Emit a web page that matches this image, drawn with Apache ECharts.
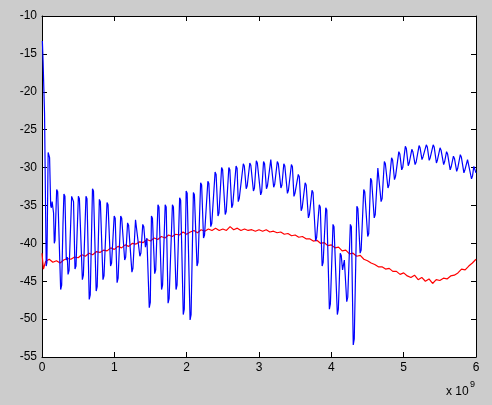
<!DOCTYPE html>
<html>
<head>
<meta charset="utf-8">
<script src="https://cdn.jsdelivr.net/npm/echarts@6/dist/echarts.min.js"></script>
<style>
html,body{margin:0;padding:0;background:#cccccc;}
#chart{width:492px;height:405px;}
</style>
</head>
<body>
<div id="chart"></div>
<script>
// x in units of 1e9
const xTicks = [0, 1, 2, 3, 4, 5, 6];
const yTicks = [-55, -50, -45, -40, -35, -30, -25, -20, -15, -10];

const blueX = [0.005,0.015,0.035,0.05,0.058,0.068,0.085,0.095,0.105,0.12,0.13,0.14,0.16,0.17,0.18,0.203,0.217,0.228,0.242,0.258,0.272,0.29,0.303,0.317,0.336,0.35,0.36,0.374,0.41,0.424,0.436,0.456,0.47,0.503,0.517,0.558,0.572,0.608,0.622,0.653,0.667,0.698,0.712,0.749,0.763,0.793,0.807,0.843,0.857,0.899,0.913,0.948,0.962,0.998,1.012,1.038,1.052,1.088,1.102,1.143,1.157,1.183,1.197,1.243,1.257,1.293,1.307,1.32,1.353,1.367,1.393,1.407,1.43,1.45,1.483,1.497,1.513,1.527,1.558,1.572,1.603,1.617,1.653,1.667,1.703,1.717,1.743,1.757,1.803,1.817,1.853,1.867,1.903,1.917,1.953,1.967,1.993,2.007,2.047,2.061,2.093,2.107,2.143,2.157,2.193,2.207,2.233,2.247,2.293,2.307,2.333,2.347,2.393,2.407,2.433,2.447,2.483,2.497,2.533,2.547,2.583,2.597,2.623,2.637,2.683,2.697,2.713,2.727,2.783,2.797,2.823,2.837,2.873,2.887,2.923,2.937,2.963,2.977,3.023,3.037,3.063,3.077,3.103,3.117,3.163,3.177,3.203,3.217,3.253,3.267,3.303,3.317,3.343,3.357,3.393,3.407,3.448,3.462,3.483,3.497,3.543,3.557,3.583,3.597,3.638,3.652,3.683,3.697,3.733,3.747,3.783,3.797,3.833,3.847,3.873,3.887,3.923,3.937,3.973,3.987,4.023,4.037,4.083,4.097,4.123,4.137,4.155,4.18,4.213,4.227,4.263,4.277,4.303,4.317,4.353,4.367,4.398,4.412,4.448,4.462,4.503,4.517,4.543,4.557,4.593,4.607,4.643,4.657,4.688,4.702,4.733,4.747,4.783,4.797,4.833,4.847,4.873,4.887,4.933,4.947,4.973,4.987,5.023,5.037,5.063,5.077,5.113,5.127,5.158,5.172,5.213,5.227,5.253,5.267,5.313,5.327,5.353,5.367,5.408,5.422,5.453,5.467,5.503,5.517,5.553,5.567,5.593,5.607,5.643,5.657,5.688,5.702,5.733,5.747,5.783,5.797,5.833,5.847,5.883,5.897,5.938,5.952,5.97,6.0];
const blueY = [-13.3,-16.0,-22.8,-36.0,-43.0,-42.5,-28.0,-28.2,-28.7,-35.0,-35.3,-34.5,-36.0,-40.0,-39.6,-32.9,-33.2,-33.0,-33.4,-46.1,-45.5,-37.5,-33.5,-33.8,-42.2,-41.8,-44.1,-43.6,-33.8,-34.0,-34.5,-43.4,-43.0,-33.8,-34.1,-44.8,-44.2,-33.8,-34.1,-47.4,-46.8,-32.8,-33.1,-46.3,-45.7,-34.2,-34.5,-44.8,-44.3,-34.6,-34.9,-43.0,-42.6,-36.4,-36.7,-45.2,-44.6,-36.4,-36.7,-42.2,-41.8,-37.3,-37.6,-43.8,-43.3,-36.9,-37.1,-36.9,-41.7,-41.3,-37.5,-37.8,-40.5,-39.3,-48.5,-47.8,-36.4,-36.7,-44.0,-43.5,-34.9,-35.2,-46.1,-45.5,-34.9,-35.2,-47.9,-47.3,-34.9,-35.2,-46.1,-45.5,-34.0,-34.3,-49.4,-48.7,-33.1,-33.4,-50.1,-49.4,-33.3,-33.6,-43.0,-42.5,-32.0,-32.3,-39.3,-38.9,-31.8,-32.1,-37.8,-37.4,-30.6,-30.9,-36.4,-36.0,-30.0,-30.3,-36.2,-35.8,-30.0,-30.3,-35.3,-34.9,-29.8,-30.1,-34.5,-34.1,-29.5,-29.8,-32.8,-32.4,-29.4,-29.7,-33.1,-32.7,-29.1,-29.4,-33.6,-33.2,-29.2,-29.5,-32.8,-32.4,-28.95,-29.2,-32.6,-32.2,-29.2,-29.5,-32.7,-32.3,-29.5,-29.8,-33.4,-33.0,-29.6,-29.9,-33.8,-33.4,-30.9,-31.2,-35.7,-35.3,-32.0,-32.3,-36.65,-36.2,-33.0,-33.3,-39.7,-39.2,-34.9,-35.2,-43.0,-42.5,-35.3,-35.6,-48.7,-48.0,-37.5,-37.8,-49.4,-48.7,-41.3,-41.6,-43.5,-42.2,-47.7,-47.1,-37.5,-37.8,-53.4,-52.6,-35.1,-35.4,-41.3,-40.9,-32.9,-33.2,-39.1,-38.7,-31.4,-31.7,-36.65,-36.2,-30.05,-30.3,-34.5,-34.1,-29.2,-29.5,-32.7,-32.3,-28.7,-29.0,-31.6,-31.2,-27.9,-28.2,-30.3,-30.0,-27.2,-27.5,-29.75,-29.4,-27.6,-27.9,-29.6,-29.3,-27.1,-27.4,-28.95,-28.6,-27.0,-27.3,-29.05,-28.7,-27.0,-27.3,-29.4,-29.0,-27.4,-27.7,-29.6,-29.2,-27.9,-28.2,-30.3,-29.9,-28.5,-28.8,-30.5,-30.1,-28.3,-28.6,-30.7,-30.3,-28.95,-29.2,-31.5,-31.1,-29.85,-30.7];

const redX = [0.00,0.02,0.05,0.10,0.15,0.20,0.25,0.30,0.35,0.40,0.45,0.50,0.55,0.60,0.65,0.70,0.75,0.80,0.85,0.90,0.95,1.00,1.05,1.10,1.15,1.20,1.25,1.30,1.35,1.40,1.45,1.50,1.55,1.60,1.65,1.70,1.75,1.80,1.85,1.90,1.95,2.00,2.05,2.10,2.15,2.20,2.25,2.30,2.35,2.40,2.45,2.50,2.55,2.60,2.65,2.70,2.75,2.80,2.85,2.90,2.95,3.00,3.05,3.10,3.15,3.20,3.25,3.30,3.35,3.40,3.45,3.50,3.55,3.60,3.65,3.70,3.75,3.80,3.85,3.90,3.95,4.00,4.05,4.10,4.15,4.20,4.25,4.30,4.35,4.40,4.45,4.50,4.55,4.60,4.65,4.70,4.75,4.80,4.85,4.90,4.95,5.00,5.05,5.10,5.15,5.20,5.25,5.30,5.35,5.40,5.45,5.50,5.55,5.60,5.65,5.70,5.75,5.80,5.85,5.90,5.95,6.00];
const redY = [-41.3,-43.4,-42.4,-42.1,-42.5,-42.3,-42.6,-42.2,-42.0,-42.1,-41.8,-41.9,-41.5,-41.7,-41.3,-41.5,-41.1,-41.2,-40.9,-41.0,-40.6,-40.8,-40.4,-40.6,-40.2,-40.4,-40.0,-40.1,-39.8,-39.9,-39.5,-39.7,-39.3,-39.5,-39.1,-39.3,-38.9,-39.1,-38.8,-38.9,-38.5,-38.8,-38.5,-38.3,-38.6,-38.2,-38.4,-38.1,-38.3,-38.0,-38.3,-38.1,-38.3,-37.8,-38.2,-38.0,-38.3,-38.1,-38.3,-38.2,-38.4,-38.2,-38.4,-38.2,-38.5,-38.4,-38.6,-38.5,-38.8,-38.7,-39.0,-38.9,-39.2,-39.1,-39.4,-39.4,-39.7,-39.6,-40.0,-39.9,-40.3,-40.2,-40.6,-40.5,-41.0,-40.9,-41.4,-41.3,-41.7,-41.6,-42.1,-42.3,-42.6,-42.8,-43.1,-43.1,-43.4,-43.3,-43.7,-43.7,-44.1,-43.9,-44.3,-44.5,-44.2,-44.8,-44.5,-45.0,-44.7,-45.3,-44.8,-44.9,-44.6,-44.7,-44.3,-44.2,-43.9,-43.4,-43.5,-43.0,-42.6,-42.1];

const FONT = "'Liberation Sans', Arial, sans-serif";
const pair = (xs, ys) => xs.map((x, i) => [x, ys[i]]);

const chart = echarts.init(document.getElementById('chart'), null, {renderer: 'canvas'});

const xCommon = {
  type: 'value', min: xTicks[0], max: xTicks[xTicks.length - 1], interval: 1,
  axisLine: {show: true, onZero: false, lineStyle: {color: '#000', width: 1}},
  axisTick: {show: true, inside: true, length: 5, lineStyle: {color: '#000'}},
  splitLine: {show: false}
};
const yCommon = {
  type: 'value', min: yTicks[0], max: yTicks[yTicks.length - 1], interval: 5,
  axisLine: {show: true, onZero: false, lineStyle: {color: '#000', width: 1}},
  axisTick: {show: true, inside: true, length: 5, lineStyle: {color: '#000'}},
  splitLine: {show: false}
};

chart.setOption({
  backgroundColor: '#cccccc',
  animation: false,
  grid: {left: 42, top: 16, width: 434, height: 341, backgroundColor: '#ffffff', show: true, borderWidth: 0},
  xAxis: [
    Object.assign({}, xCommon, {position: 'bottom',
      axisLabel: {show: true, color: '#000', fontSize: 12, fontFamily: FONT, margin: 5}}),
    Object.assign({}, xCommon, {position: 'top', axisLabel: {show: false}})
  ],
  yAxis: [
    Object.assign({}, yCommon, {position: 'left',
      axisLabel: {show: true, color: '#000', fontSize: 12, fontFamily: FONT, margin: 5}}),
    Object.assign({}, yCommon, {position: 'right', axisLabel: {show: false}})
  ],
  series: [
    {type: 'line', data: pair(redX, redY), showSymbol: false, symbol: 'none',
     lineStyle: {color: '#ff0000', width: 1.2}, z: 2},
    {type: 'line', data: pair(blueX, blueY), showSymbol: false, symbol: 'none',
     lineStyle: {color: '#0000ff', width: 1.2}, z: 3}
  ],
  graphic: [
    {type: 'text', left: 446, top: 386, style: {text: 'x 10', fill: '#000', font: '12px ' + FONT}},
    {type: 'text', left: 470, top: 380, style: {text: '9', fill: '#000', font: '9px ' + FONT}}
  ]
});
</script>
</body>
</html>
